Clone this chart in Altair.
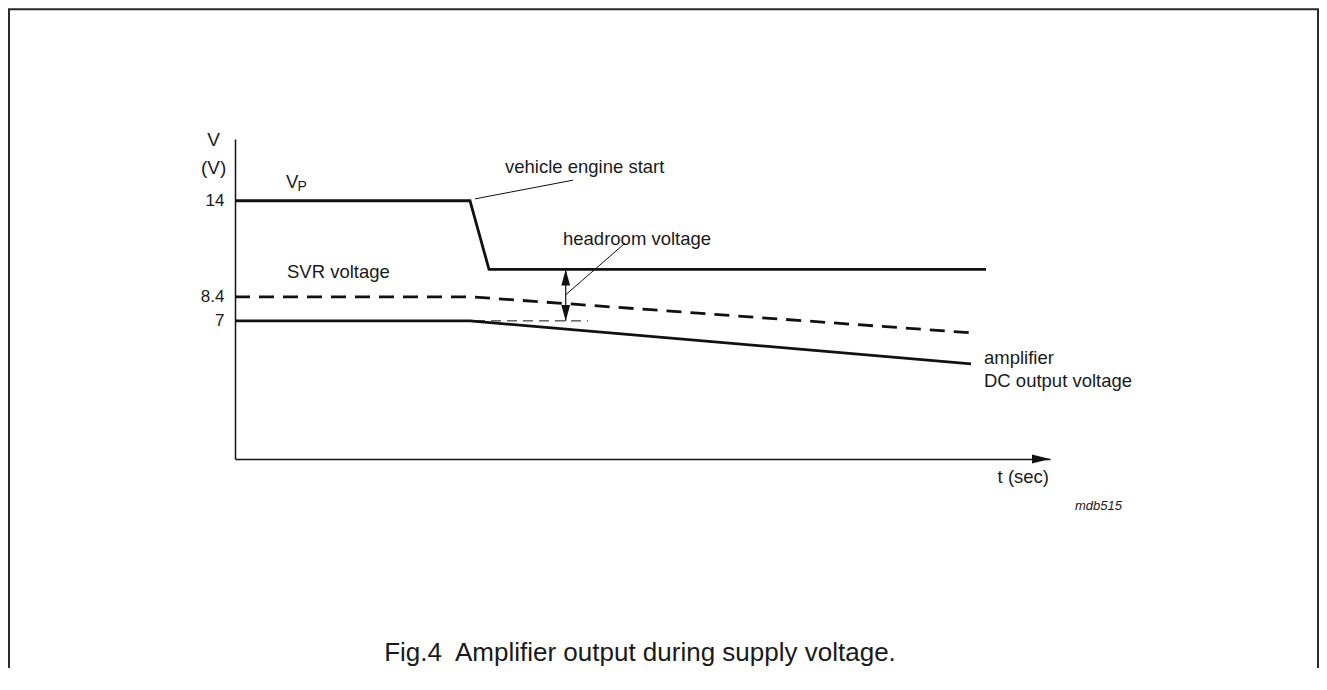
import altair as alt
import pandas as pd

# ---------------- data (time in arbitrary units, voltage in V) ----------------
T_DOMAIN = [0, 81.5]
V_DOMAIN = [-1.05, 17.6]

vp_t = [0, 23.5, 25.4, 75.1]
vp_v = [14, 14, 10, 10]

svr_t = [0, 23.7, 73.7]
svr_v = [8.4, 8.4, 6.3]

amp_t = [0, 23.5, 73.6]
amp_v = [7, 7, 4.5]

y_ticks = [7, 8.4, 14]

ref7_t = [24.0, 35.3]
ref7_v = [7, 7]

headroom_t = [33.07]
headroom_top = [10]
headroom_bot = [7]

leader_t = [24.0, 33.07]
leader_t2 = [33.8, 39.0]
leader_v = [14.11, 8.52]
leader_v2 = [15.2, 11.53]

frame_t = [-22.6, 108.3]
frame_v = [-40, 25.16]

label_text = ["vehicle engine start", "headroom voltage", "SVR voltage", "V",
              "amplifier", "DC output voltage", "t (sec)"]
label_t = [27.0, 32.8, 5.2, 5.1, 74.9, 74.9, 81.4]
label_v = [15.97, 11.78, 9.86, 15.07, 4.86, 3.48, -2.12]
label_align = ["left", "left", "left", "left", "left", "left", "right"]

sub_text = ["P"]
sub_t = [6.25]
sub_v = [14.78]

ytitle_text = ["V", "(V)"]
ytitle_t = [-2.13, -2.13]
ytitle_v = [17.54, 15.91]

code_text = ["mdb515"]
code_t = [84.0]
code_v = [-3.81]

caption_text = ["Fig.4\u00a0 Amplifier output during supply voltage."]
caption_t = [40.5]
caption_v = [-12.36]

INK = "#111111"
TXT = "#1a1a1a"
FONT = "Liberation Sans"

# ---------------- shared encodings ----------------
x_axis = alt.Axis(labels=False, ticks=False, grid=False, domain=True,
                  domainColor=INK, domainWidth=1.5, title=None)
y_axis = alt.Axis(values=y_ticks, format="~g", ticks=False, grid=False, domain=True,
                  domainColor=INK, domainWidth=1.5, title=None,
                  labelFont=FONT, labelFontSize=17, labelColor=TXT,
                  labelPadding=11, labelOverlap=False)
xs = alt.Scale(domain=T_DOMAIN, nice=False, zero=False)
ys = alt.Scale(domain=V_DOMAIN, nice=False, zero=False)


def X(f):
    return alt.X(f, type="quantitative", scale=xs, axis=x_axis)


def Y(f):
    return alt.Y(f, type="quantitative", scale=ys, axis=y_axis)


def line_layer(ts, vs, width, dash=None):
    df = pd.DataFrame({"t": ts, "v": vs, "o": list(range(len(ts)))})
    kw = dict(color=INK, strokeWidth=width, strokeJoin="miter")
    if dash:
        kw["strokeDash"] = dash
    return alt.Chart(df).mark_line(**kw).encode(x=X("t"), y=Y("v"), order="o:Q")


def text_layer(texts, ts, vs, size, align="left", style="normal", color=TXT, baseline="middle"):
    df = pd.DataFrame({"label": texts, "t": ts, "v": vs})
    return alt.Chart(df).mark_text(font=FONT, fontSize=size, align=align, baseline=baseline,
                                   fontStyle=style, color=color).encode(
        x=X("t"), y=Y("v"), text="label:N")


layers = []

# outer frame
frame_df = pd.DataFrame({"t": [frame_t[0]], "t2": [frame_t[1]], "v": [frame_v[0]], "v2": [frame_v[1]]})
layers.append(alt.Chart(frame_df).mark_rect(fill=None, stroke="#2a2a2a", strokeWidth=2).encode(
    x=X("t"), x2="t2", y=Y("v"), y2="v2"))

# curves
layers.append(line_layer(vp_t, vp_v, 2.8))
layers.append(line_layer(svr_t, svr_v, 2.8, dash=[15, 9]))
layers.append(line_layer(amp_t, amp_v, 2.8))
layers.append(line_layer(ref7_t, ref7_v, 1, dash=[10, 6]))

# headroom arrow shaft
hr_df = pd.DataFrame({"t": headroom_t, "v": headroom_top, "v2": headroom_bot})
layers.append(alt.Chart(hr_df).mark_rule(color=INK, strokeWidth=1.2).encode(
    x=X("t"), y=Y("v"), y2="v2"))
# arrow heads
up_df = pd.DataFrame({"t": headroom_t, "v": headroom_top})
dn_df = pd.DataFrame({"t": headroom_t, "v": headroom_bot})
layers.append(alt.Chart(up_df).mark_point(shape="M0,0L0.55,2L-0.55,2Z", size=256, filled=True,
                                          color=INK, opacity=1, strokeWidth=0).encode(x=X("t"), y=Y("v")))
layers.append(alt.Chart(dn_df).mark_point(shape="M0,0L0.55,-2L-0.55,-2Z", size=256, filled=True,
                                          color=INK, opacity=1, strokeWidth=0).encode(x=X("t"), y=Y("v")))
# x-axis arrow head
ax_df = pd.DataFrame({"t": [T_DOMAIN[1]], "v": [V_DOMAIN[0]]})
layers.append(alt.Chart(ax_df).mark_point(shape="M0,0L-2,-0.5L-2,0.5Z", size=324, filled=True,
                                          color=INK, opacity=1, strokeWidth=0).encode(x=X("t"), y=Y("v")))

# leader lines
ld_df = pd.DataFrame({"t": leader_t, "t2": leader_t2, "v": leader_v, "v2": leader_v2})
layers.append(alt.Chart(ld_df).mark_rule(color=INK, strokeWidth=1).encode(
    x=X("t"), x2="t2", y=Y("v"), y2="v2"))

# annotations
for txt, t, v, al in zip(label_text, label_t, label_v, label_align):
    layers.append(text_layer([txt], [t], [v], 18.5, align=al))
layers.append(text_layer(sub_text, sub_t, sub_v, 14))
layers.append(text_layer(ytitle_text, ytitle_t, ytitle_v, 19, align="center"))
layers.append(text_layer(code_text, code_t, code_v, 13, style="italic"))
layers.append(text_layer(caption_text, caption_t, caption_v, 26, align="center"))

chart = alt.layer(*layers).properties(
    width=815,
    height=320,
    padding={"left": 227, "top": 131, "right": 269, "bottom": 209},
    autosize=alt.AutoSizeParams(type="none"),
    background="white",
).configure_view(stroke=None)

chart.save("out.html", embed_options={"renderer": "svg", "actions": False})
